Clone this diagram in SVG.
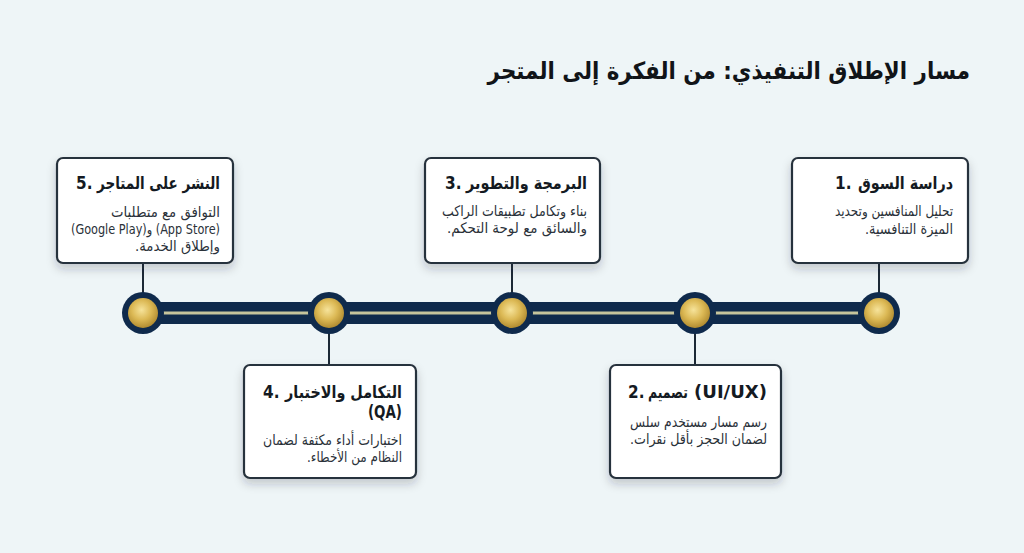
<svg xmlns="http://www.w3.org/2000/svg" width="1024" height="553" viewBox="0 0 1024 553">
<defs>
<radialGradient id="gold" cx="45%" cy="40%" r="65%">
<stop offset="0" stop-color="#f6e39a"/>
<stop offset="0.5" stop-color="#dcb955"/>
<stop offset="1" stop-color="#a9832a"/>
</radialGradient>
<filter id="sh" x="-20%" y="-20%" width="140%" height="150%">
<feDropShadow dx="0" dy="5" stdDeviation="5" flood-color="#1a2a3a" flood-opacity="0.22"/>
</filter>
<style>
.box{fill:#ffffff;stroke:#27313c;stroke-width:2.2;filter:url(#sh)}
.ttl{font-family:"DejaVu Sans Condensed","DejaVu Sans",sans-serif;font-weight:bold;font-size:17px;fill:#141a22;direction:rtl;text-anchor:start}
.num{font-family:"DejaVu Sans Condensed","DejaVu Sans",sans-serif;font-weight:bold;font-size:17px;fill:#141a22;text-anchor:start}
.lat{font-family:"DejaVu Sans Condensed","DejaVu Sans",sans-serif;font-weight:bold;font-size:17px;fill:#141a22;text-anchor:end}
.body{font-family:"DejaVu Sans Condensed","DejaVu Sans",sans-serif;font-size:14.5px;fill:#2a3139;direction:rtl;text-anchor:start}
.conn{stroke:#1c2936;stroke-width:2}
.outer{fill:#0f2a4c}
.inner{fill:url(#gold)}
</style>
</defs>
<rect width="1024" height="553" fill="#eef5f7"/>
<text x="970" y="79" direction="rtl" text-anchor="start" font-family="DejaVu Sans Condensed, DejaVu Sans, sans-serif" font-weight="bold" font-size="23.8" fill="#111418">مسار الإطلاق التنفيذي: من الفكرة إلى المتجر</text>

<g id="connectors">
<line class="conn" x1="143" y1="262" x2="143" y2="293"/>
<line class="conn" x1="512" y1="262" x2="512" y2="293"/>
<line class="conn" x1="879" y1="262" x2="879" y2="293"/>
<line class="conn" x1="329" y1="333" x2="329" y2="366"/>
<line class="conn" x1="695" y1="333" x2="695" y2="366"/>
</g>

<g id="timeline">
<rect x="143" y="302" width="736" height="22" fill="#0f2a4c"/>
<rect x="143" y="311.5" width="736" height="3" fill="#c6c49c"/>
</g>

<g id="m1"><circle class="outer" cx="879" cy="313" r="21"/><circle class="inner" cx="879" cy="313" r="15"/></g>
<g id="m2"><circle class="outer" cx="695" cy="313" r="21"/><circle class="inner" cx="695" cy="313" r="15"/></g>
<g id="m3"><circle class="outer" cx="512" cy="313" r="21"/><circle class="inner" cx="512" cy="313" r="15"/></g>
<g id="m4"><circle class="outer" cx="329" cy="313" r="21"/><circle class="inner" cx="329" cy="313" r="15"/></g>
<g id="m5"><circle class="outer" cx="143" cy="313" r="21"/><circle class="inner" cx="143" cy="313" r="15"/></g>

<g id="step1">
<rect class="box" x="792" y="158" width="176" height="105" rx="6"/>
<text class="num" x="835" y="189">1.</text>
<text class="ttl" x="953" y="189" textLength="95" lengthAdjust="spacingAndGlyphs">دراسة السوق</text>
<text class="body" x="953" y="216" textLength="118" lengthAdjust="spacingAndGlyphs">تحليل المنافسين وتحديد</text>
<text class="body" x="953" y="234" textLength="88" lengthAdjust="spacingAndGlyphs">الميزة التنافسية.</text>
</g>

<g id="step2">
<rect class="box" x="610" y="365" width="171" height="113" rx="6"/>
<text class="num" x="628" y="398">2.</text>
<text class="ttl" x="688" y="398" textLength="40" lengthAdjust="spacingAndGlyphs">تصميم</text>
<text class="lat" x="767" y="398" textLength="73" lengthAdjust="spacingAndGlyphs">(UI/UX)</text>
<text class="body" x="767" y="427" textLength="137" lengthAdjust="spacingAndGlyphs">رسم مسار مستخدم سلس</text>
<text class="body" x="767" y="444" textLength="137" lengthAdjust="spacingAndGlyphs">لضمان الحجز بأقل نقرات.</text>
</g>

<g id="step3">
<rect class="box" x="425" y="158" width="175" height="105" rx="6"/>
<text class="num" x="445" y="189">3.</text>
<text class="ttl" x="587" y="189" textLength="121" lengthAdjust="spacingAndGlyphs">البرمجة والتطوير</text>
<text class="body" x="587" y="216" textLength="145" lengthAdjust="spacingAndGlyphs">بناء وتكامل تطبيقات الراكب</text>
<text class="body" x="587" y="233" textLength="140" lengthAdjust="spacingAndGlyphs">والسائق مع لوحة التحكم.</text>
</g>

<g id="step4">
<rect class="box" x="244" y="365" width="172" height="113" rx="6"/>
<text class="num" x="263" y="398">4.</text>
<text class="ttl" x="402" y="398" textLength="117" lengthAdjust="spacingAndGlyphs">التكامل والاختبار</text>
<text class="lat" x="402" y="418" textLength="34" lengthAdjust="spacingAndGlyphs">(QA)</text>
<text class="body" x="402" y="445" textLength="139" lengthAdjust="spacingAndGlyphs">اختبارات أداء مكثفة لضمان</text>
<text class="body" x="402" y="462" textLength="95" lengthAdjust="spacingAndGlyphs">النظام من الأخطاء.</text>
</g>

<g id="step5">
<rect class="box" x="57" y="158" width="176" height="105" rx="6"/>
<text class="num" x="76" y="189">5.</text>
<text class="ttl" x="220" y="189" textLength="123" lengthAdjust="spacingAndGlyphs">النشر على المتاجر</text>
<text class="body" x="220" y="217" textLength="109" lengthAdjust="spacingAndGlyphs">التوافق مع متطلبات</text>
<text class="body" x="220" y="234" textLength="149" lengthAdjust="spacingAndGlyphs">(App Store) و(Google Play)</text>
<text class="body" x="220" y="251" textLength="85" lengthAdjust="spacingAndGlyphs">وإطلاق الخدمة.</text>
</g>
</svg>
